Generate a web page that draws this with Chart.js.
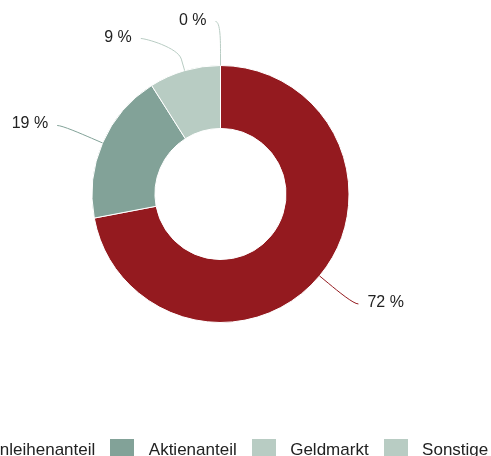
<!DOCTYPE html>
<html lang="de">
<head>
<meta charset="utf-8">
<title>Anlagestruktur</title>
<script src="https://cdn.jsdelivr.net/npm/chart.js@4.4.1/dist/chart.umd.min.js"></script>
<style>
    html, body { margin: 0; padding: 0; background: #fff; overflow: hidden; }
    body { width: 491px; height: 456px; position: relative; }
    /* legend is wider than the window in the original, so the canvas overhangs on the left */
    #chartBox { position: absolute; left: -65px; top: 0; width: 571px; height: 469px; }
</style>
</head>
<body>
<div id="chartBox"><canvas id="chart"></canvas></div>
<script>
const categories = ['Anleihenanteil', 'Aktienanteil', 'Geldmarkt', 'Sonstige'];
const shares = [72, 19, 9, 0];
const colors = ['#941a1f', '#82a298', '#b8ccc3', '#b8ccc3'];

const valueLabels = shares.map(v => v + ' %');

// draws the percentage labels outside the ring with curved connectors
const labelLinesPlugin = {
    id: 'labelLines',
    afterDatasetsDraw(chart, args, opts) {
        const ctx = chart.ctx;
        const meta = chart.getDatasetMeta(0);
        const items = meta.data.map((arc, i) => {
            const { x, y, startAngle, endAngle, outerRadius } =
                arc.getProps(['x', 'y', 'startAngle', 'endAngle', 'outerRadius'], true);
            const angle = (startAngle + endAngle) / 2;
            const cos = Math.cos(angle);
            const sin = Math.sin(angle);
            const labelRadius = outerRadius + opts.distance;
            return {
                index: i, cx: x, cy: y, cos, sin, r: outerRadius, labelRadius,
                left: cos < 0.001,
                labelY: y + labelRadius * sin
            };
        });

        [true, false].forEach(side => {
            const list = items.filter(it => it.left === side).sort((a, b) => a.labelY - b.labelY);
            for (let k = 1; k < list.length; k++) {
                list[k].labelY = Math.max(list[k].labelY, list[k - 1].labelY + opts.spacing);
            }
        });

        ctx.save();
        ctx.font = opts.font;
        ctx.lineWidth = 1;
        items.forEach(it => {
            const dir = it.left ? -1 : 1;
            const dy = it.labelY - it.cy;
            const dx = Math.sqrt(Math.max(0, it.labelRadius * it.labelRadius - dy * dy));
            const lx = it.cx + dir * (dx + opts.padding);
            const ly = it.labelY;
            const tx = it.cx + it.r * it.cos;
            const ty = it.cy + it.r * it.sin;
            const bx = it.cx + (it.r + opts.breakAt) * it.cos;
            const by = it.cy + (it.r + opts.breakAt) * it.sin;

            ctx.beginPath();
            ctx.moveTo(lx, ly);
            ctx.bezierCurveTo(lx - dir * 5, ly, 2 * bx - tx, 2 * by - ty, bx, by);
            ctx.lineTo(tx, ty);
            ctx.strokeStyle = colors[it.index];
            ctx.stroke();

            ctx.fillStyle = opts.color;
            ctx.textAlign = it.left ? 'right' : 'left';
            ctx.textBaseline = 'alphabetic';
            ctx.fillText(valueLabels[it.index], lx + dir * opts.textGap, ly + 3);
        });
        ctx.restore();
    }
};

// square legend swatch, drawn as a point style so the text gap can be wider
function makeSwatch(color, size) {
    const c = document.createElement('canvas');
    c.width = size;
    c.height = size;
    const g = c.getContext('2d');
    g.fillStyle = color;
    g.fillRect(0, 0, size, size);
    return c;
}

Chart.defaults.font.family = '"Liberation Sans", Arial, Helvetica, sans-serif';

const defaultLegendLabels = Chart.overrides.doughnut.plugins.legend.labels.generateLabels;

new Chart(document.getElementById('chart'), {
    type: 'doughnut',
    data: {
        labels: categories,
        datasets: [
            {
                data: shares,
                backgroundColor: colors,
                borderColor: '#ffffff',
                borderWidth: 1,
                hoverOffset: 0
            }
        ]
    },
    options: {
        responsive: true,
        maintainAspectRatio: false,
        animation: false,
        cutout: '51%',
        layout: {
            padding: { top: 65, left: 0, right: 0, bottom: 0 }
        },
        plugins: {
            tooltip: { enabled: false },
            legend: {
                position: 'bottom',
                align: 'start',
                title: {
                    display: true,
                    text: '',
                    font: { size: 10, lineHeight: 1 },
                    padding: { top: 100, bottom: 0 }
                },
                labels: {
                    usePointStyle: true,
                    pointStyleWidth: 36,
                    boxHeight: 17,
                    padding: 9,
                    color: '#222222',
                    font: { size: 17 },
                    generateLabels: chart => defaultLegendLabels(chart).map(item => ({
                        ...item,
                        lineWidth: 0,
                        pointStyle: makeSwatch(colors[item.index], 24)
                    }))
                }
            },
            labelLines: {
                distance: 44,
                spacing: 17,
                padding: 5,
                breakAt: 12,
                textGap: 9,
                color: '#222222',
                font: '16px "Liberation Sans", Arial, Helvetica, sans-serif'
            }
        }
    },
    plugins: [labelLinesPlugin]
});
</script>
</body>
</html>
